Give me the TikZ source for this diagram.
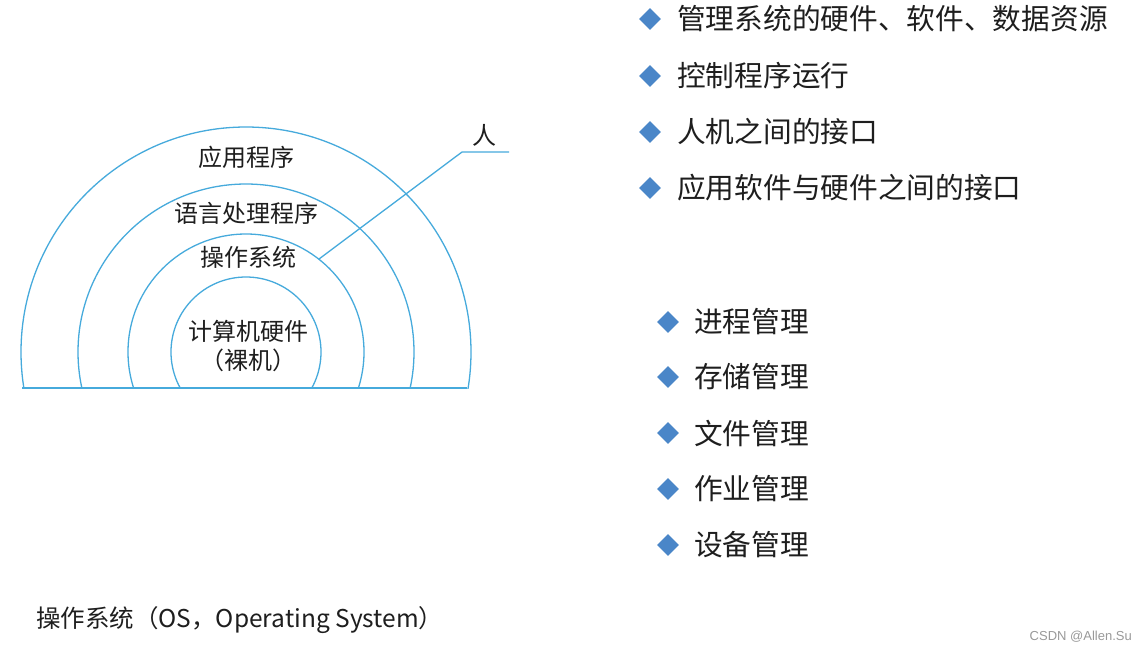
\documentclass[tikz,border=0pt]{standalone}
\usepackage{fontspec}
\setmainfont{Noto Sans CJK SC}
\newfontfamily\wmfont{Liberation Sans}
\usetikzlibrary{shapes.geometric}
\definecolor{arcblue}{RGB}{70,170,220}
\definecolor{dblue}{RGB}{74,134,200}
\definecolor{txt}{RGB}{30,30,30}
\begin{document}
\begin{tikzpicture}[x=1pt,y=-1pt,
  ring/.style={draw=arcblue,line width=1.3pt},
  lbl/.style={text=txt,font=\fontsize{24}{28}\selectfont,inner sep=0pt},
  item/.style={text=txt,font=\fontsize{28.7}{32}\selectfont,inner sep=0pt,anchor=west},
  bullet/.style={diamond,fill=dblue,inner sep=0pt,minimum width=22pt,minimum height=22pt}]
\useasboundingbox[fill=white] (0,0) rectangle (1146,654);

% rings
\begin{scope}
  \clip (0,0) rectangle (1146,388);
  \foreach \r in {225,168,118,75}
    \draw[ring] (246,352) circle[radius=\r pt];
\end{scope}
\coordinate (bl) at (22,388);
\coordinate (br) at (467,388);
\draw[ring] (bl) -- (br);

% ring labels
\node[lbl] (app) at (246,157) {应用程序};
\node[lbl] (lang) at (246,213) {语言处理程序};
\node[lbl] (os) at (248,257) {操作系统};
\node[lbl] (hw) at (248,331) {计算机硬件};
\node[lbl] (bare) at (248,360) {（裸机）};

% person line
\coordinate (p1) at (319,259);
\coordinate (p2) at (462,152);
\coordinate (p3) at (509,152);
\node[lbl] (ren) at (484,135) {人};
\draw[ring] (p1) -- (p2) -- (p3);

% top bullet list
\node[bullet] (b1) at (650,19) {};
\node[item] (t1) at (677,19) {管理系统的硬件、软件、数据资源};
\node[bullet] (b2) at (650,76) {};
\node[item] (t2) at (677,76) {控制程序运行};
\node[bullet] (b3) at (650,132) {};
\node[item] (t3) at (677,132) {人机之间的接口};
\node[bullet] (b4) at (650,188) {};
\node[item] (t4) at (677,188) {应用软件与硬件之间的接口};

% lower bullet list
\node[bullet] (c1) at (668,322) {};
\node[item] (u1) at (694,322) {进程管理};
\node[bullet] (c2) at (668,377) {};
\node[item] (u2) at (694,377) {存储管理};
\node[bullet] (c3) at (668,433) {};
\node[item] (u3) at (694,433) {文件管理};
\node[bullet] (c4) at (668,489) {};
\node[item] (u4) at (694,489) {作业管理};
\node[bullet] (c5) at (668,545) {};
\node[item] (u5) at (694,545) {设备管理};

% caption
\node[text=txt,font=\fontsize{24.5}{28}\selectfont,inner sep=0pt,anchor=west] (cap) at (36,620) {操作系统（OS，Operating System）};

% watermark
\node[text=gray!80,font=\wmfont\fontsize{13}{15}\selectfont,inner sep=0pt,anchor=east] (wm) at (1132,637) {CSDN @Allen.Su};
\end{tikzpicture}
\end{document}
